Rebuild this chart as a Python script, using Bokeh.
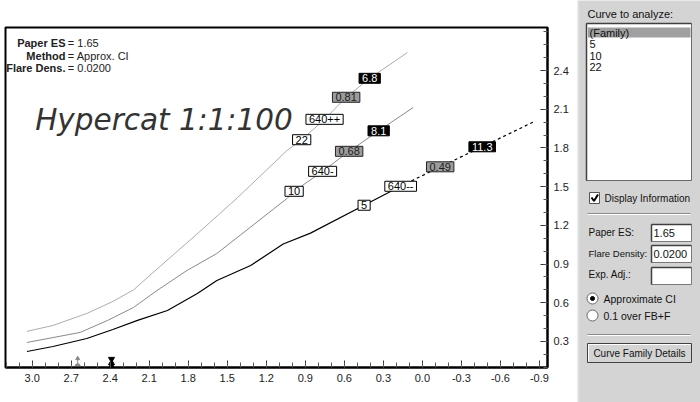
from bokeh.plotting import figure
from bokeh.models import Range1d, FixedTicker, PrintfTickFormatter, ColumnDataSource, Label
from bokeh.layouts import row
from bokeh.embed import file_html
from bokeh.resources import INLINE
from bokeh.core.properties import value, field

# ---------------- data ----------------
curve_22_x = [3.04, 2.84, 2.58, 2.38, 2.22, 2.07, 1.71, 1.42, 1.04, 0.928, 0.752, 0.586, 0.405, 0.115]
curve_22_y = [0.378, 0.424, 0.517, 0.610, 0.700, 0.835, 1.153, 1.416, 1.781, 1.864, 2.022, 2.193, 2.340, 2.540]

curve_10_x = [3.04, 2.63, 2.42, 2.22, 2.04, 1.81, 1.58, 1.04, 0.986, 0.767, 0.563, 0.336, 0.07]
curve_10_y = [0.292, 0.370, 0.463, 0.564, 0.695, 0.850, 0.982, 1.409, 1.464, 1.619, 1.774, 1.933, 2.114]

curve_5_x = [3.04, 2.84, 2.58, 2.38, 2.19, 1.96, 1.73, 1.58, 1.32, 1.07, 0.86, 0.448, 0.167]
curve_5_y = [0.222, 0.261, 0.323, 0.393, 0.463, 0.540, 0.672, 0.773, 0.889, 1.055, 1.140, 1.356, 1.503]
curve_5_ext_x = [0.167, -0.137, -0.460, -0.85]
curve_5_ext_y = [1.503, 1.654, 1.809, 2.00]

label_text = ["22", "640++", "0.81", "6.8",
              "10", "640-", "0.68", "8.1",
              "5", "640--", "0.49", "11.3"]
label_x = [0.928, 0.752, 0.586, 0.405,
           0.986, 0.767, 0.563, 0.336,
           0.448, 0.167, -0.137, -0.460]
label_y = [1.864, 2.022, 2.193, 2.340,
           1.464, 1.619, 1.774, 1.933,
           1.356, 1.503, 1.654, 1.809]
label_kind = ["name", "code", "ci", "exp"] * 3

x_major = [3.0, 2.7, 2.4, 2.1, 1.8, 1.5, 1.2, 0.9, 0.6, 0.3, 0.0, -0.3, -0.6, -0.9]
x_minor = [round(3.2 - 0.1 * i, 1) for i in range(42)]
y_major = [0.3, 0.6, 0.9, 1.2, 1.5, 1.8, 2.1, 2.4]
y_minor = [round(0.1 * i, 1) for i in range(1, 28)]

info_names = ["Paper ES", "Method", "Flare Dens."]
info_values = ["= 1.65", "= Approx. CI", "= 0.0200"]

axis_marker_x = [2.65, 2.39]

list_items = ["(Family)", "5", "10", "22"]

# ---------------- styles ----------------
FONT = "Liberation Sans"
kind_fill = {"name": "white", "code": "white", "ci": "#9c9c9c", "exp": "black"}
kind_text = {"name": "black", "code": "black", "ci": "#1a1a1a", "exp": "white"}
kind_line = {"name": "black", "code": "black", "ci": "#222222", "exp": "black"}

X_LO, X_HI = 3.205, -0.962
Y_LO, Y_HI = 0.098, 2.734

p = figure(width=577, height=402,
           x_range=Range1d(X_LO, X_HI), y_range=Range1d(Y_LO, Y_HI),
           y_axis_location="right", toolbar_location=None, output_backend="svg",
           min_border_left=5, min_border_right=30, min_border_top=27, min_border_bottom=35,
           outline_line_color="black", outline_line_width=2,
           background_fill_color="white", border_fill_color="white")
p.grid.visible = False
p.frame_align = False

p.xaxis.ticker = FixedTicker(ticks=x_major, minor_ticks=x_minor)
p.yaxis.ticker = FixedTicker(ticks=y_major, minor_ticks=y_minor)
p.xaxis.formatter = PrintfTickFormatter(format="%.1f")
p.yaxis.formatter = PrintfTickFormatter(format="%.1f")
for ax in (p.xaxis[0], p.yaxis[0]):
    ax.axis_line_width = 2
    ax.axis_line_color = "black"
    ax.major_tick_in = 7
    ax.major_tick_out = 0
    ax.minor_tick_in = 5
    ax.minor_tick_out = 0
    ax.major_tick_line_color = "#333333"
    ax.minor_tick_line_color = "#555555"
    ax.major_label_text_font = FONT
    ax.major_label_text_font_size = "11px"
    ax.major_label_text_color = "#222222"
    ax.major_label_standoff = 6
p.yaxis[0].minor_tick_in = 4

# curves
p.line(curve_22_x, curve_22_y, line_color="#acacac", line_width=1)
p.line(curve_10_x, curve_10_y, line_color="#8a8a8a", line_width=1)
p.line(curve_5_x, curve_5_y, line_color="black", line_width=1.2)
p.line(curve_5_ext_x, curve_5_ext_y, line_color="black", line_width=1.2, line_dash="3 3")

# curve labels
lab_src = ColumnDataSource(dict(
    x=label_x, y=label_y, text=label_text,
    fill=[kind_fill[k] for k in label_kind],
    tcol=[kind_text[k] for k in label_kind],
    lcol=[kind_line[k] for k in label_kind],
))
p.text(x="x", y="y", text="text", source=lab_src,
       text_align="center", text_baseline="middle",
       text_font=value(FONT), text_font_size=value("11px"),
       text_color=field("tcol"),
       background_fill_color=field("fill"),
       border_line_color=field("lcol"), border_line_width=1,
       padding=(3, 1))

# info block
info_y = [2.616, 2.515, 2.422]
p.text(x=[2.744] * 3, y=info_y, text=info_names, text_align="right", text_baseline="alphabetic",
       text_font=value(FONT), text_font_size=value("11px"), text_font_style=value("bold"),
       text_color="#222222")
p.text(x=[2.726] * 3, y=info_y, text=info_values, text_align="left", text_baseline="alphabetic",
       text_font=value(FONT), text_font_size=value("11px"), text_color="#222222")

p.add_layout(Label(x=2.977, y=2.02, text="Hypercat 1:1:100", text_font="DejaVu Sans",
                   text_font_style="italic", text_font_size="29.5px", text_color="#333333",
                   text_baseline="alphabetic", text_align="left"))

# little markers on x axis
p.segment(x0=[axis_marker_x[0]], y0=[Y_LO + 0.01], x1=[axis_marker_x[0]], y1=[Y_LO + 0.075],
          line_color="#8a8a8a", line_width=1)
p.scatter([axis_marker_x[0]], [Y_LO + 0.07], marker="triangle", size=4, color="#8a8a8a")
p.scatter([axis_marker_x[0]], [Y_LO + 0.01], marker="circle", size=5, color="#8a8a8a")
p.scatter([axis_marker_x[1]], [Y_LO + 0.065], marker="inverted_triangle", size=6, color="black")
p.scatter([axis_marker_x[1]], [Y_LO + 0.035], marker="triangle", size=6, color="black")
p.scatter([axis_marker_x[1]], [Y_LO + 0.01], marker="circle", size=4, color="black")

# ---------------- right panel ----------------
PANEL = "#d4d4d4"
q = figure(width=123, height=402, x_range=Range1d(0, 123), y_range=Range1d(402, 0),
           toolbar_location=None, output_backend="svg", min_border=0,
           x_axis_location=None, y_axis_location=None,
           background_fill_color=PANEL, border_fill_color=PANEL, outline_line_color=None)
q.grid.visible = False
q.frame_align = False

q.segment(x0=[0.5], y0=[0], x1=[0.5], y1=[402], line_color="#eeeeee", line_width=1)


def ptext(xs, ys, texts, align="left", color="#111111", size="10px"):
    q.text(x=xs, y=ys, text=texts, text_align=align, text_baseline="middle",
           text_font=value(FONT), text_font_size=value(size), text_color=color)


ptext([10], [13], ["Curve to analyze:"], size="11px")
# listbox
q.quad(left=[9], right=[114], top=[23], bottom=[180], fill_color="white", line_color="#6a6a6a")
q.segment(x0=[9, 9], y0=[23, 23], x1=[114, 9], y1=[23, 180], line_color="#404040", line_width=1.5)
q.quad(left=[10.5], right=[113], top=[27], bottom=[37], fill_color="#a0a0a0", line_color=None)
ptext([12] * 4, [32, 43, 55, 66], list_items, size="11px")

# checkbox
q.quad(left=[12], right=[22], top=[192], bottom=[203], fill_color="white", line_color="#555555")
q.line([14, 16.5, 20.5], [197, 200.5, 194], line_color="black", line_width=2)
ptext([27], [198], ["Display Information"])

# separators
for sy in (213, 334):
    q.segment(x0=[10], y0=[sy], x1=[113], y1=[sy], line_color="#8a8a8a", line_width=1)
    q.segment(x0=[10], y0=[sy + 1], x1=[113], y1=[sy + 1], line_color="white", line_width=1)

# fields
ptext([11, 11], [232, 274], ["Paper ES:", "Exp. Adj.:"])
ptext([11], [253], ["Flare Density:"], size="9.5px")
q.quad(left=[74] * 3, right=[114] * 3, top=[224, 245, 267], bottom=[241, 262, 284],
       fill_color="white", line_color="#7a7a7a")
q.segment(x0=[74] * 3, y0=[224, 245, 267], x1=[114] * 3, y1=[224, 245, 267],
          line_color="#404040", line_width=1.5)
q.segment(x0=[74] * 3, y0=[224, 245, 267], x1=[74] * 3, y1=[241, 262, 284],
          line_color="#404040", line_width=1.5)
ptext([76, 76], [232, 253], ["1.65", "0.0200"], size="11px")

# radio buttons
q.scatter([15, 15], [298, 315], marker="circle", size=11, fill_color="white", line_color="#666666")
q.scatter([15], [298], marker="circle", size=4, color="black")
ptext([26, 26], [298, 315], ["Approximate CI", "0.1 over FB+F"], size="10.5px")

# button
q.quad(left=[10], right=[114], top=[343], bottom=[362], fill_color=PANEL, line_color="#404040")
q.segment(x0=[11, 11], y0=[344, 344], x1=[113, 11], y1=[344, 361], line_color="white", line_width=1)
ptext([62], [352.5], ["Curve Family Details"], align="center")

layout = row(p, q)
open("out.html", "w").write(file_html(layout, INLINE))
